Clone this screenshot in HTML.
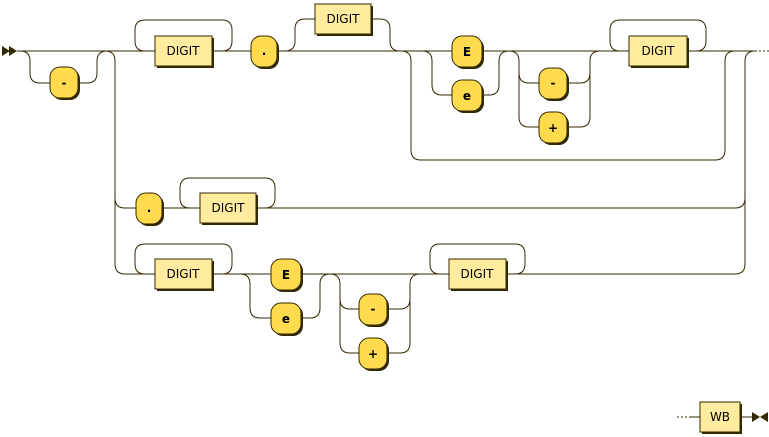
<!DOCTYPE html>
<html><head><meta charset="utf-8"><style>
html,body{margin:0;padding:0;background:#fff}
svg{display:block}
.l{fill:none;stroke:#332900;stroke-width:1}
.nt{fill:#FFEC9E;stroke:#332900;stroke-width:1}
.t{fill:#FFDB4D;stroke:#332900;stroke-width:1}
.s{fill:#332900}
text{font-family:"DejaVu Sans","Liberation Sans",sans-serif;font-size:12px;fill:#000;text-anchor:middle}
.b{font-weight:bold}
</style></head><body>
<svg width="769" height="437" viewBox="0 0 769 437" xmlns="http://www.w3.org/2000/svg">
<polygon class="s" points="2,46 10,51 2,56"/><polygon class="s" points="9,46 17,51 9,56"/>
<path class="l" d="M17 51H155M212 51H251M277 51H452M482 51H629M687 51H755"/>
<path class="l" d="M755 51H769" stroke-dasharray="2,2"/>
<path class="l" d="M20 51Q30 51 30 61V73Q30 83 40 83H50M78 83H87Q97 83 97 73V61Q97 51 107 51"/>
<path class="l" d="M105 51Q115 51 115 61V264Q115 274 125 274H155M115 198Q115 208 125 208H136"/>
<path class="l" d="M735 274Q745 274 745 264V61Q745 51 755 51M735 208Q745 208 745 198"/>
<path class="l" d="M145 51Q135 51 135 41V30Q135 20 145 20H222Q232 20 232 30V41Q232 51 222 51"/>
<path class="l" d="M285 51Q295 51 295 41V29Q295 19 305 19H315M371 19H380Q390 19 390 29V41Q390 51 400 51"/>
<path class="l" d="M401 51Q411 51 411 61V150Q411 160 421 160H715Q725 160 725 150V61Q725 51 735 51"/>
<path class="l" d="M422 51Q432 51 432 61V85Q432 95 442 95H452M482 95H489Q499 95 499 85V61Q499 51 509 51"/>
<path class="l" d="M509 51Q519 51 519 61V117Q519 127 529 127H539M519 73Q519 83 529 83H539M567 83H580Q590 83 590 73M567 127H580Q590 127 590 117V61Q590 51 600 51"/>
<path class="l" d="M620 51Q610 51 610 41V30Q610 20 620 20H696Q706 20 706 30V41Q706 51 696 51"/>
<path class="l" d="M162 208H200M256 208H735"/>
<path class="l" d="M190 208Q180 208 180 198V188Q180 178 190 178H265Q275 178 275 188V198Q275 208 265 208"/>
<path class="l" d="M212 274H271M301 274H449M506 274H735"/>
<path class="l" d="M145 274Q135 274 135 264V254Q135 244 145 244H222Q232 244 232 254V264Q232 274 222 274"/>
<path class="l" d="M240 274Q250 274 250 284V308Q250 318 260 318H271M301 318H310Q320 318 320 308V284Q320 274 330 274"/>
<path class="l" d="M330 274Q340 274 340 284V343Q340 353 350 353H359M340 299Q340 309 350 309H359M387 309H400Q410 309 410 299M387 353H400Q410 353 410 343V284Q410 274 420 274"/>
<path class="l" d="M440 274Q430 274 430 264V254Q430 244 440 244H515Q525 244 525 254V264Q525 274 515 274"/>
<path class="l" d="M677 417H690" stroke-dasharray="2,2"/>
<path class="l" d="M690 417H700M740 417H752"/>
<polygon class="s" points="752,412 760,417 752,422"/><polygon class="s" points="768,412 760,417 768,422"/>
<g>
<rect class="s" x="157" y="38" width="57" height="30"/><rect class="nt" x="155" y="36" width="57" height="30"/><text x="183" y="55">DIGIT</text>
<rect class="s" x="317" y="6" width="56" height="30"/><rect class="nt" x="315" y="4" width="56" height="30"/><text x="343" y="23">DIGIT</text>
<rect class="s" x="631" y="38" width="58" height="30"/><rect class="nt" x="629" y="36" width="58" height="30"/><text x="658" y="55">DIGIT</text>
<rect class="s" x="202" y="195" width="56" height="30"/><rect class="nt" x="200" y="193" width="56" height="30"/><text x="228" y="212">DIGIT</text>
<rect class="s" x="157" y="261" width="57" height="30"/><rect class="nt" x="155" y="259" width="57" height="30"/><text x="183" y="278">DIGIT</text>
<rect class="s" x="451" y="261" width="57" height="30"/><rect class="nt" x="449" y="259" width="57" height="30"/><text x="477" y="278">DIGIT</text>
<rect class="s" x="702" y="404" width="40" height="30"/><rect class="nt" x="700" y="402" width="40" height="30"/><text x="720" y="421">WB</text>
</g>
<g>
<rect class="s" x="52" y="69" width="28" height="31" rx="10"/><rect class="t" x="50" y="67" width="28" height="31" rx="10"/><text class="b" x="64" y="87">-</text>
<rect class="s" x="253" y="38" width="26" height="31" rx="10"/><rect class="t" x="251" y="36" width="26" height="31" rx="10"/><text class="b" x="264" y="55">.</text>
<rect class="s" x="454" y="38" width="30" height="31" rx="10"/><rect class="t" x="452" y="36" width="30" height="31" rx="10"/><text class="b" x="467" y="56">E</text>
<rect class="s" x="454" y="82" width="30" height="31" rx="10"/><rect class="t" x="452" y="80" width="30" height="31" rx="10"/><text class="b" x="467" y="100">e</text>
<rect class="s" x="541" y="70" width="28" height="31" rx="10"/><rect class="t" x="539" y="68" width="28" height="31" rx="10"/><text class="b" x="553" y="87">-</text>
<rect class="s" x="541" y="114" width="28" height="31" rx="10"/><rect class="t" x="539" y="112" width="28" height="31" rx="10"/><text class="b" x="553" y="132">+</text>
<rect class="s" x="138" y="195" width="26" height="31" rx="10"/><rect class="t" x="136" y="193" width="26" height="31" rx="10"/><text class="b" x="149" y="212">.</text>
<rect class="s" x="273" y="261" width="30" height="31" rx="10"/><rect class="t" x="271" y="259" width="30" height="31" rx="10"/><text class="b" x="286" y="279">E</text>
<rect class="s" x="273" y="305" width="30" height="31" rx="10"/><rect class="t" x="271" y="303" width="30" height="31" rx="10"/><text class="b" x="286" y="323">e</text>
<rect class="s" x="361" y="296" width="28" height="31" rx="10"/><rect class="t" x="359" y="294" width="28" height="31" rx="10"/><text class="b" x="373" y="313">-</text>
<rect class="s" x="361" y="340" width="28" height="31" rx="10"/><rect class="t" x="359" y="338" width="28" height="31" rx="10"/><text class="b" x="373" y="358">+</text>
</g>
</svg>
</body></html>
